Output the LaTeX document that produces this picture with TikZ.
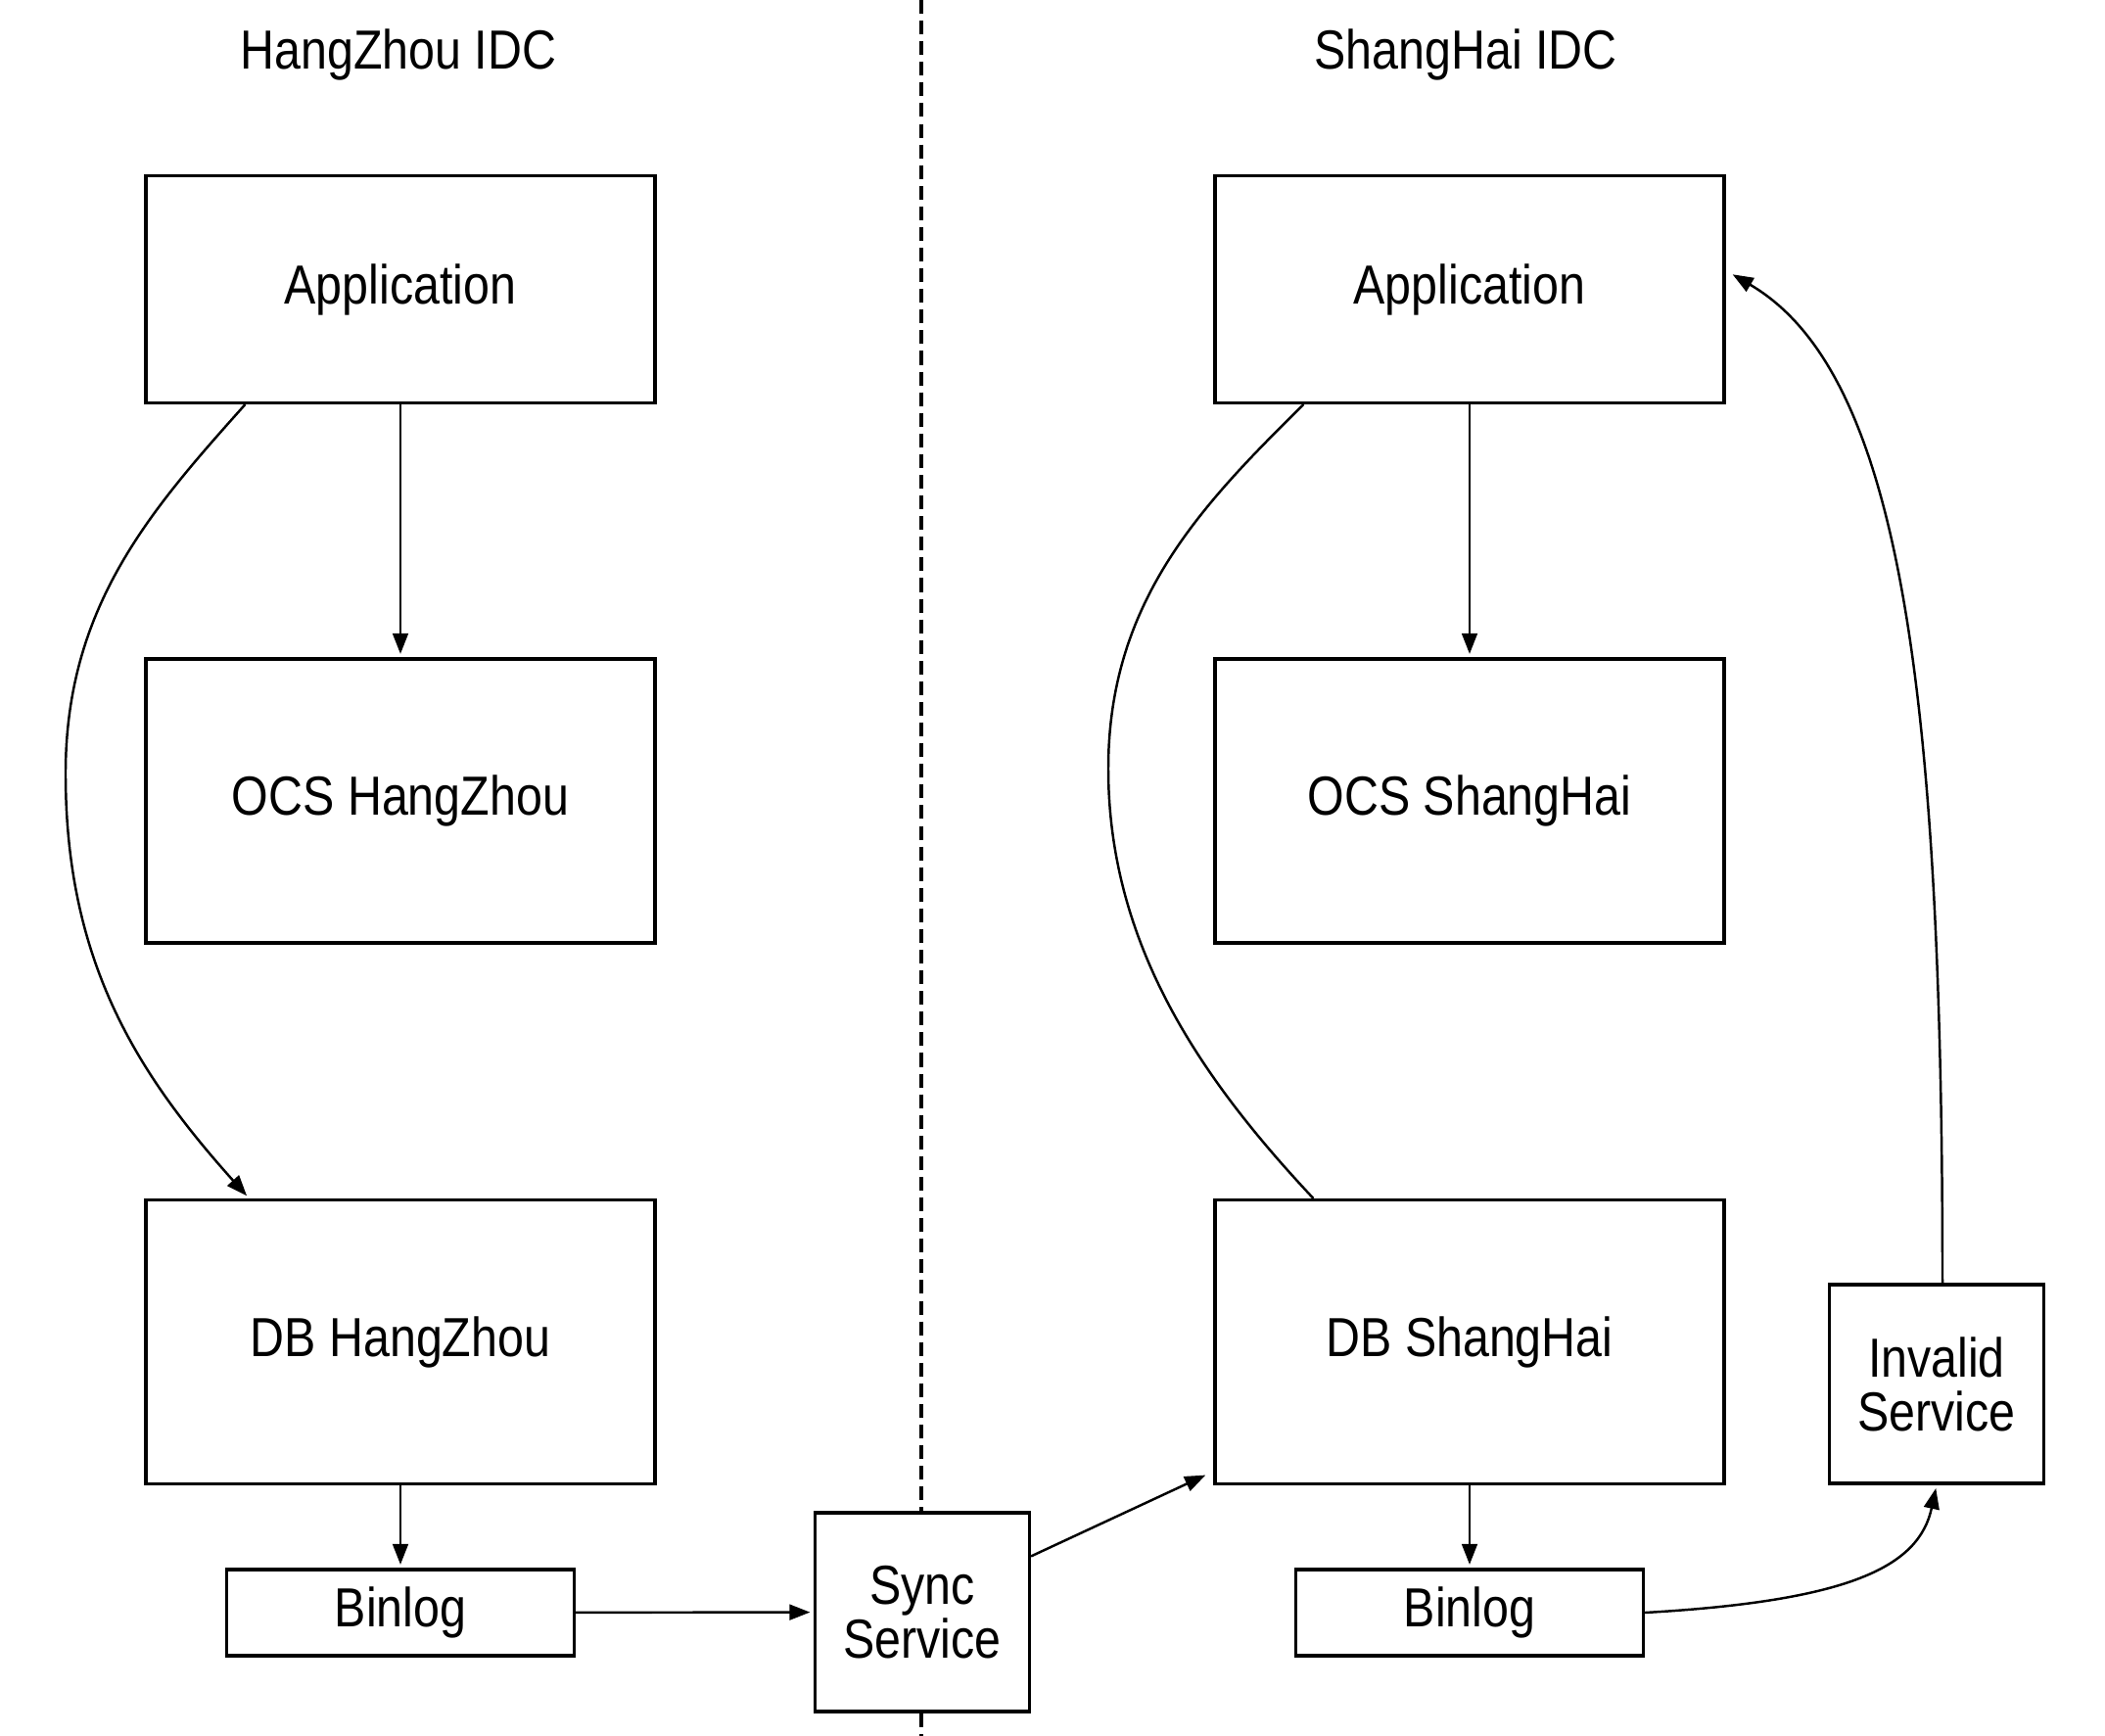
\documentclass[tikz,border=0pt]{standalone}
\usepackage{fontspec}
\setmainfont{Liberation Sans}[FakeStretch=0.86]
\usetikzlibrary{arrows.meta, positioning, calc}

\begin{document}
\begin{tikzpicture}[
    blk/.style={draw, line width=0.9pt, fill=white, minimum width=5.2cm, minimum height=2.9cm, inner sep=2pt, align=center, font=\fontsize{16}{15.6}\selectfont},
    app/.style={blk, minimum height=2.32cm},
    svc/.style={blk, minimum width=2.19cm, minimum height=2.03cm},
    logbox/.style={blk, minimum width=3.55cm, minimum height=0.88cm},
    idc/.style={font=\fontsize{16}{15.6}\selectfont},
    arr/.style={-{Triangle[length=6pt, width=4.5pt]}, line width=0.7pt, shorten >=1pt},
    link/.style={line width=0.7pt},
]
\useasboundingbox (0,0) rectangle (21.5,-17.73);

% ── Divider between the two IDCs ──
\coordinate (divtop) at (9.41,0);
\coordinate (divbot) at (9.41,-17.73);
\draw[line width=0.9pt, dash pattern=on 4pt off 2pt] (divtop) -- (divbot);

% ── HangZhou side ──
\node[idc] (hzIDC) at (4.07,-0.56) {HangZhou IDC};
\node[app] (appHZ) at (4.09,-2.955) {Application};
\node[blk] (ocsHZ) at (4.09,-8.18) {OCS HangZhou};
\node[blk] (dbHZ) at (4.09,-13.705) {DB HangZhou};
\node[logbox] (binHZ) at (4.09,-16.47) {Binlog};

% ── Sync in the middle ──
\node[svc] (sync) at (9.42,-16.465) {Sync\\Service};

% ── ShangHai side ──
\node[idc] (shIDC) at (14.97,-0.56) {ShangHai IDC};
\node[app] (appSH) at (15.01,-2.955) {Application};
\node[blk] (ocsSH) at (15.01,-8.18) {OCS ShangHai};
\node[blk] (dbSH) at (15.01,-13.705) {DB ShangHai};
\node[logbox] (binSH) at (15.01,-16.47) {Binlog};
\node[svc] (inv) at (19.78,-14.135) {Invalid\\Service};

% ── Arrows ──
\draw[arr] (appHZ) -- (ocsHZ);
\draw[arr] ($(appHZ.south west)+(1.03,0)$) .. controls (1.53,-5.22) and (0.67,-6.20) .. (0.67,-7.90)
    .. controls (0.67,-9.80) and (1.38,-10.94) .. ($(dbHZ.north west)+(1.07,0)$);
\draw[arr] (dbHZ) -- (binHZ);
\draw[arr] (binHZ) -- (sync);
\draw[arr] ($(sync.north east)+(0,-0.46)$) -- ($(dbSH.south west)+(-0.05,0.12)$);

\draw[arr] (appSH) -- (ocsSH);
\draw[link] ($(dbSH.north west)+(1.02,0)$) .. controls (12.27,-11.02) and (11.32,-9.65) .. (11.32,-7.85)
    .. controls (11.32,-6.15) and (12.26,-5.17) .. ($(appSH.south west)+(0.92,0)$);
\draw[arr] (dbSH) -- (binSH);
\draw[arr] (binSH.east) .. controls (18.9,-16.35) and (19.6,-16.0) .. (inv.south);
\draw[arr] ($(inv.north)+(0.06,0)$) .. controls (19.84,-7.00) and (19.40,-3.80) .. ($(appSH.east)+(0.04,0.17)$);

\end{tikzpicture}
\end{document}
